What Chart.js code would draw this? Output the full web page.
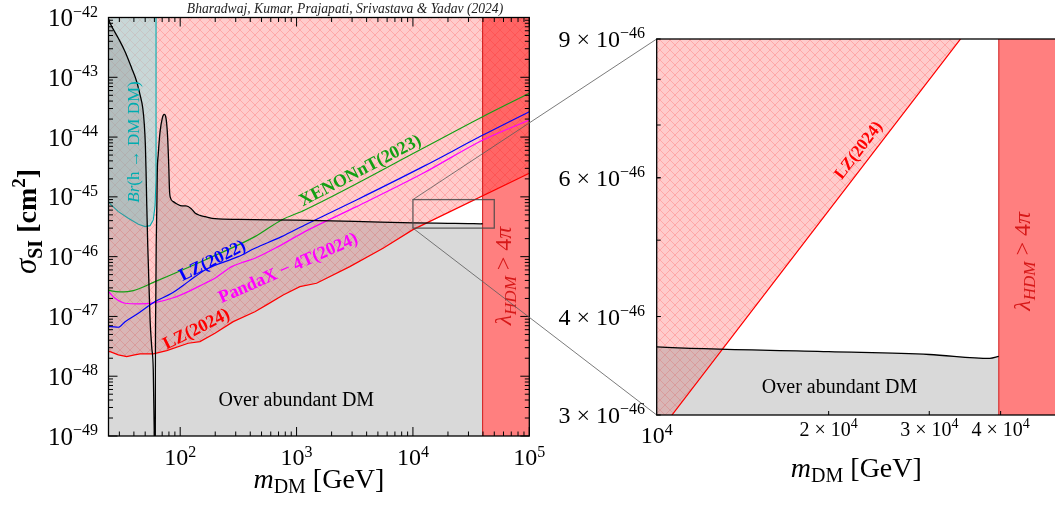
<!DOCTYPE html>
<html>
<head>
<meta charset="utf-8">
<title>Higgs-portal dark matter: direct detection limits</title>
<script src="https://cdn.jsdelivr.net/npm/chart.js@4.4.1/dist/chart.umd.min.js"></script>
<style>
  html, body { margin: 0; padding: 0; background: #ffffff; }
  #stage { position: relative; width: 1055px; height: 506px; overflow: hidden; }
  #stage canvas { position: absolute; top: 0; }
  #full { left: 0; }
  #detail { left: 540px; }
</style>
</head>
<body>
<div id="stage">
  <canvas id="full" width="1055" height="506"></canvas>
  <canvas id="detail" width="517" height="506"></canvas>
</div>
<script>
// DM mass in GeV, spin-independent cross section in cm^2

// relic-density curve (black); the region below it gives over-abundant DM
const relicMass = [24.2, 25.0, 29.4, 33.6, 38.3, 42.3, 45.2, 47.7, 49.2, 50.2, 50.9, 51.6, 52.6, 53.2,
  55.1, 56.9, 58.7, 59.9, 60.3, 60.8, 61.1, 61.2, 61.7, 62.2, 63.0, 63.6, 64.7, 67.1, 70.2, 73.0,
  75.5, 77.8, 79.7, 80.9, 82.5, 87.3, 93.9, 103.6, 112.1, 123.8, 134.0, 147.9, 163.3, 199.0, 316,
  1000, 3162, 10000, 20000, 30000, 38300, 39700];
const relicSigma = [9.4e-43, 8.0e-43, 4.49e-43, 2.68e-43, 1.42e-43, 8.43e-44, 5.06e-44, 3.03e-44,
  1.59e-44, 7.38e-45, 2.64e-45, 7.33e-46, 1.57e-46, 7.85e-47, 8.75e-48, 3.13e-48, 1.27e-48, 1.0e-49,
  2.5e-50, 2.5e-50, 1.0e-49, 1.27e-48, 1.89e-47, 1.57e-46, 7.33e-46, 2.82e-45, 5.02e-45, 1.22e-44,
  2.08e-44, 2.39e-44, 2.08e-44, 1.08e-44, 3.41e-45, 1.30e-45, 9.59e-46, 8.32e-46, 7.60e-46, 7.05e-46,
  7.05e-46, 6.40e-46, 5.38e-46, 4.89e-46, 4.67e-46, 4.31e-46, 4.19e-46, 4.07e-46, 3.90e-46, 3.66e-46,
  3.61e-46, 3.58e-46, 3.54e-46, 3.56e-46];

// LZ (2024) upper limit
const lz2024Mass = [24.2, 25.0, 29.4, 34.7, 39.6, 45.2, 58.7, 76.6, 117.3, 147.9, 199, 285.6, 438.5,
  552.7, 767.4, 1067, 1485, 2867, 5537, 10000, 20000, 100000];
const lz2024Sigma = [2.58e-48, 2.58e-48, 2.27e-48, 2.13e-48, 2.25e-48, 2.36e-48, 2.36e-48, 2.68e-48,
  3.56e-48, 3.79e-48, 5.24e-48, 8.18e-48, 1.20e-47, 1.56e-47, 2.29e-47, 3.15e-47, 3.59e-47, 6.81e-47,
  1.38e-46, 2.83e-46, 5.45e-46, 2.49e-45];

// LZ (2022) upper limit
const lz2022Mass = [24.2, 25.0, 29.4, 33.6, 43.7, 60.8, 84.5, 117.3, 163.3, 315.3, 438.5, 743.2, 1178,
  3273, 12210, 39970, 100000];
const lz2022Sigma = [6.75e-48, 6.75e-48, 6.59e-48, 8.18e-48, 1.13e-47, 1.77e-47, 2.44e-47, 3.82e-47,
  6.0e-47, 1.0e-46, 1.38e-46, 2.16e-46, 3.39e-46, 8.87e-46, 3.20e-45, 1.08e-44, 2.66e-44];

// PandaX-4T (2024) upper limit
const pandaxMass = [24.2, 25.0, 27.6, 33.6, 43.7, 60.8, 84.5, 117.3, 163.3, 199, 276.7, 359.9, 438.5,
  695.3, 1178, 3273, 12210, 39970, 100000];
const pandaxSigma = [2.6e-47, 2.44e-47, 2.01e-47, 1.66e-47, 1.62e-47, 1.70e-47, 2.01e-47, 2.60e-47,
  3.59e-47, 4.35e-47, 6.81e-47, 8.24e-47, 9.40e-47, 1.47e-46, 2.62e-46, 6.86e-46, 2.48e-45, 8.95e-45,
  1.93e-44];

// XENONnT (2023) upper limit
const xenonMass = [24.2, 25.0, 30.4, 39.6, 60.8, 163.3, 438.5, 743.2, 1178, 12210, 39700, 100000];
const xenonSigma = [2.75e-47, 2.70e-47, 2.57e-47, 2.70e-47, 3.82e-47, 8.81e-47, 2.16e-46, 4.11e-46,
  6.04e-46, 6.50e-45, 2.19e-44, 5.40e-44];

// boundary of the region excluded by Br(h -> DM DM)
const brMass = [24.2, 25.0, 29.4, 35.8, 43.7, 49.9, 55.1, 58.7, 60.8, 62.0, 62.0];
const brSigma = [8.32e-46, 7.60e-46, 5.66e-46, 4.39e-46, 3.48e-46, 3.18e-46, 3.30e-46, 4.11e-46,
  7.05e-46, 1.92e-45, 1e-42];

// perturbativity: lambda_HDM > 4 pi above this mass
const lambdaMass = 39700;

// axis ranges
const fullX = [24.2, 1e5];
const fullY = [1e-49, 1e-42];
const detailX = [1e4, 5e4];
const detailY = [3e-46, 9e-46];

// tick labels
const fullXTicks = [1e2, 1e3, 1e4, 1e5];
const fullXExp = ['2', '3', '4', '5'];
const fullYTicks = [1e-42, 1e-43, 1e-44, 1e-45, 1e-46, 1e-47, 1e-48, 1e-49];
const fullYExp = ['−42', '−43', '−44', '−45', '−46', '−47', '−48', '−49'];
const detailYTicks = [3e-46, 4e-46, 6e-46, 9e-46];
const detailYMant = ['3', '4', '6', '9'];
const detailXTicks = [1e4, 2e4, 3e4, 4e4];
const detailXMant = ['', '2', '3', '4'];

// ---------------------------------------------------------------------------------------------
const FAM = '"Liberation Serif", "Times New Roman", serif';
const font = (px, style) => (style ? style + ' ' : '') + px + 'px ' + FAM;
const xy = (xs, ys) => xs.map((x, i) => ({ x, y: ys[i] }));

// light red fill with a diagonal cross-hatch
function hatchPattern(ctx) {
  const T = 10;
  const c = document.createElement('canvas');
  c.width = c.height = T;
  const g = c.getContext('2d');
  g.fillStyle = 'rgba(255,0,0,0.2)';
  g.fillRect(0, 0, T, T);
  g.strokeStyle = 'rgba(255,60,60,0.26)';
  g.lineWidth = 1;
  g.beginPath();
  for (let k = -1; k <= 1; k++) {
    g.moveTo(k * T - 1, -1); g.lineTo(k * T + T + 1, T + 1);
    g.moveTo(k * T + T + 1, -1); g.lineTo(k * T - 1, T + 1);
  }
  g.stroke();
  return ctx.createPattern(c, 'repeat');
}

const NONE = 'rgba(0,0,0,0)';

function layers(ctx, detail) {
  const sets = [];
  // region excluded by LZ (2024)
  sets.push({ data: xy(lz2024Mass, lz2024Sigma), fill: 'end', backgroundColor: hatchPattern(ctx),
    borderColor: NONE, borderWidth: 0, order: 10 });
  if (!detail) {
    sets.push({ data: xy(brMass, brSigma), fill: 'end', backgroundColor: 'rgba(145,226,226,0.5)',
      borderColor: 'rgb(0,172,176)', borderWidth: 1.1, order: 9 });
  }
  // over-abundant region under the relic curve
  sets.push({ data: xy(relicMass, relicSigma), fill: 'start', backgroundColor: 'rgba(128,128,128,0.3)',
    borderColor: NONE, borderWidth: 0, order: 8 });
  // non-perturbative band
  sets.push({ data: [{ x: lambdaMass, y: fullY[0] / 10 }, { x: lambdaMass, y: fullY[1] * 10 },
                     { x: fullX[1] * 10, y: fullY[1] * 10 }],
    fill: 'start', backgroundColor: 'rgba(255,0,0,0.5)', borderColor: 'rgba(205,0,0,0.9)',
    borderWidth: 1, order: 7 });
  sets.push({ data: xy(lz2024Mass, lz2024Sigma), fill: false, borderColor: '#ff0000', borderWidth: 1.2, order: 5 });
  if (!detail) {
    const smooth = { fill: false, borderWidth: 1.2, cubicInterpolationMode: 'monotone' };
    sets.push(Object.assign({ data: xy(pandaxMass, pandaxSigma), borderColor: '#ff00ff', order: 4 }, smooth));
    sets.push(Object.assign({ data: xy(lz2022Mass, lz2022Sigma), borderColor: '#0000ff', order: 3 }, smooth));
    sets.push(Object.assign({ data: xy(xenonMass, xenonSigma), borderColor: 'rgb(20,160,20)', order: 2 }, smooth));
  }
  sets.push({ data: xy(relicMass, relicSigma), fill: false, borderColor: '#000000', borderWidth: 1.3,
    cubicInterpolationMode: 'monotone', order: 1 });
  sets.forEach(s => { s.clip = 0; s.pointRadius = 0; });
  return sets;
}

// text made of runs of different size / style
function rich(ctx, parts, x, y, align, angle, color, shift) {
  ctx.save();
  ctx.translate(x, y);
  ctx.rotate((angle || 0) * Math.PI / 180);
  ctx.fillStyle = color || '#000';
  ctx.textAlign = 'left';
  ctx.textBaseline = 'alphabetic';
  let w = 0;
  for (const p of parts) { ctx.font = font(p.size, p.style); w += ctx.measureText(p.text).width; }
  let cx = align === 'center' ? -w / 2 : align === 'right' ? -w : 0;
  for (const p of parts) {
    ctx.font = font(p.size, p.style);
    ctx.fillText(p.text, cx, (shift || 0) + (p.dy || 0));
    cx += ctx.measureText(p.text).width;
  }
  ctx.restore();
}

function minorLog(min, max) {
  const out = [];
  for (let d = Math.floor(Math.log10(min)); d <= Math.ceil(Math.log10(max)); d++) {
    for (let k = 2; k <= 9; k++) {
      const v = k * Math.pow(10, d);
      if (v > min * 1.0001 && v < max * 0.9999) out.push(v);
    }
  }
  return out;
}

function marks(ctx, a, scale, values, len, sides) {
  ctx.beginPath();
  for (const v of values) {
    const p = scale.getPixelForValue(v);
    if (sides.includes('bottom')) { ctx.moveTo(p, a.bottom); ctx.lineTo(p, a.bottom - len); }
    if (sides.includes('top')) { ctx.moveTo(p, a.top); ctx.lineTo(p, a.top + len); }
    if (sides.includes('left')) { ctx.moveTo(a.left, p); ctx.lineTo(a.left + len, p); }
    if (sides.includes('right')) { ctx.moveTo(a.right, p); ctx.lineTo(a.right - len, p); }
  }
  ctx.stroke();
}

function notes(chart, list) {
  const { ctx, scales: { x, y } } = chart;
  for (const n of list) {
    const px = x.getPixelForValue(n.at[0]);
    const py = y.getPixelForValue(n.at[1]);
    rich(ctx, n.parts, px, py, 'center', n.angle, n.color, 0.33 * n.parts[0].size);
  }
}

const lambdaParts = (s) => [
  { text: 'λ', size: s, style: 'italic' },
  { text: 'HDM', size: Math.round(s * 0.7), style: 'italic', dy: 5 },
  { text: ' > 4', size: s },
  { text: 'π', size: s, style: 'italic' },
];

const fullNotes = [
  { parts: [{ text: 'XENONnT(2023)', size: 18, style: 'bold' }], at: [3494, 2.82e-45], angle: -27.7, color: 'rgb(20,160,20)' },
  { parts: [{ text: 'LZ(2022)', size: 18, style: 'bold' }], at: [188, 8.8e-47], angle: -26.5, color: '#0000ff' },
  { parts: [{ text: 'PandaX − 4T(2024)', size: 18, style: 'bold' }], at: [842, 6.6e-47], angle: -23.9, color: '#ff00ff' },
  { parts: [{ text: 'LZ(2024)', size: 18, style: 'bold' }], at: [137, 6.3e-48], angle: -26.6, color: '#ff0000' },
  { parts: [{ text: 'Br', size: 17, style: 'italic' }, { text: '(h → DM DM)', size: 17 }], at: [39.7, 8.28e-45], angle: -90, color: 'rgb(0,172,176)' },
  { parts: lambdaParts(24), at: [59000, 4.75e-47], angle: -90, color: 'rgb(215,25,25)' },
  { parts: [{ text: 'Over abundant DM', size: 20 }], at: [996, 4.02e-49], angle: 0, color: '#000' },
];

const detailNotes = [
  { parts: [{ text: 'LZ(2024)', size: 17, style: 'bold' }], at: [22500, 6.51e-46], angle: -52.5, color: '#ff0000' },
  { parts: [{ text: 'Over abundant DM', size: 20 }], at: [20900, 3.26e-46], angle: 0, color: '#000' },
  { parts: lambdaParts(24), at: [43600, 4.70e-46], angle: -90, color: 'rgb(215,25,25)' },
];

let detailChart = null;

const fullDecor = {
  id: 'fullDecor',
  afterDraw(chart) {
    const { ctx, chartArea: a, scales: { x, y } } = chart;
    ctx.save();
    notes(chart, fullNotes);

    // zoomed window
    const rx0 = x.getPixelForValue(detailX[0]), rx1 = x.getPixelForValue(detailX[1]);
    const ry0 = y.getPixelForValue(detailY[1]), ry1 = y.getPixelForValue(detailY[0]);
    ctx.strokeStyle = 'rgba(70,70,70,0.85)';
    ctx.lineWidth = 1.3;
    ctx.strokeRect(rx0, ry0, rx1 - rx0, ry1 - ry0);

    // frame and inward ticks
    ctx.strokeStyle = '#000';
    ctx.lineWidth = 1.3;
    ctx.strokeRect(a.left, a.top, a.right - a.left, a.bottom - a.top);
    ctx.lineWidth = 1;
    marks(ctx, a, x, fullXTicks, 9, ['bottom', 'top']);
    marks(ctx, a, x, minorLog(fullX[0], fullX[1]), 4.5, ['bottom', 'top']);
    marks(ctx, a, y, fullYTicks, 9, ['left', 'right']);
    marks(ctx, a, y, minorLog(fullY[0], fullY[1]), 4.5, ['left', 'right']);

    // tick labels
    fullXTicks.forEach((v, i) => {
      rich(ctx, [{ text: '10', size: 24 }, { text: fullXExp[i], size: 16, dy: -8 }],
        x.getPixelForValue(v), a.bottom + 29, 'center');
    });
    fullYTicks.forEach((v, i) => {
      rich(ctx, [{ text: '10', size: 25 }, { text: fullYExp[i], size: 16, dy: -9.5 }],
        a.left - 10.5, y.getPixelForValue(v) + 8.5, 'right');
    });

    // axis titles
    rich(ctx, [{ text: 'm', size: 28, style: 'italic' }, { text: 'DM', size: 20, dy: 5 }, { text: ' [GeV]', size: 28 }],
      (a.left + a.right) / 2, a.bottom + 52, 'center');
    rich(ctx, [{ text: 'σ', size: 31, style: 'italic' }, { text: 'SI', size: 20, style: 'bold', dy: 6 },
               { text: ' [cm', size: 28, style: 'bold' }, { text: '2', size: 19, style: 'bold', dy: -11 },
               { text: ']', size: 28, style: 'bold' }],
      36, a.top + 204, 'center', -90);

    rich(ctx, [{ text: 'Bharadwaj, Kumar, Prajapati, Srivastava & Yadav (2024)', size: 13.6, style: 'italic' }],
      345, 12.5, 'center', 0, '#222');

    // connectors to the detail panel
    if (detailChart) {
      const d = detailChart.chartArea;
      const off = detailChart.canvas.offsetLeft - chart.canvas.offsetLeft;
      ctx.strokeStyle = 'rgba(90,90,90,0.8)';
      ctx.lineWidth = 1;
      ctx.beginPath();
      ctx.moveTo(rx0, ry0); ctx.lineTo(d.left + off, d.top);
      ctx.moveTo(rx0, ry1); ctx.lineTo(d.left + off, d.bottom);
      ctx.stroke();
    }
    ctx.restore();
  }
};

const detailDecor = {
  id: 'detailDecor',
  afterDraw(chart) {
    const { ctx, chartArea: a, scales: { x, y } } = chart;
    ctx.save();
    notes(chart, detailNotes);

    ctx.strokeStyle = '#000';
    ctx.lineWidth = 1.3;
    ctx.strokeRect(a.left, a.top, a.right - a.left, a.bottom - a.top);
    ctx.lineWidth = 1;
    marks(ctx, a, y, minorLog(detailY[0], detailY[1]).concat(detailYTicks), 4, ['left']);
    marks(ctx, a, x, detailXTicks.slice(1), 4, ['bottom']);

    detailYTicks.forEach((v, i) => {
      rich(ctx, [{ text: detailYMant[i] + ' × 10', size: 24 }, { text: '−46', size: 16, dy: -8.8 }],
        a.left - 11.7, y.getPixelForValue(v) + 8, 'right');
    });
    detailXTicks.forEach((v, i) => {
      const px = x.getPixelForValue(v);
      if (detailXMant[i] === '') {
        rich(ctx, [{ text: '10', size: 24 }, { text: '4', size: 16, dy: -8.3 }], px, a.bottom + 28.3, 'center');
      } else {
        rich(ctx, [{ text: detailXMant[i] + ' × 10', size: 20 }, { text: '4', size: 14, dy: -7.5 }], px, a.bottom + 20.5, 'center');
      }
    });

    rich(ctx, [{ text: 'm', size: 28, style: 'italic' }, { text: 'DM', size: 20, dy: 5 }, { text: ' [GeV]', size: 28 }],
      (a.left + a.right) / 2, a.bottom + 62, 'center');
    ctx.restore();
  }
};

function baseOptions(xr, yr, pad) {
  return {
    responsive: false,
    animation: false,
    devicePixelRatio: 1,
    events: [],
    layout: { padding: pad },
    scales: {
      x: { type: 'logarithmic', min: xr[0], max: xr[1], display: false },
      y: { type: 'logarithmic', min: yr[0], max: yr[1], display: false },
    },
    plugins: { legend: { display: false }, tooltip: { enabled: false }, title: { display: false } },
    elements: { point: { radius: 0, hoverRadius: 0 }, line: { tension: 0 } },
  };
}

const detailCanvas = document.getElementById('detail');
detailChart = new Chart(detailCanvas, {
  type: 'line',
  data: { datasets: layers(detailCanvas.getContext('2d'), true) },
  options: baseOptions(detailX, detailY, { left: 116.7, right: 1, top: 39, bottom: 91 }),
  plugins: [detailDecor],
});

const fullCanvas = document.getElementById('full');
new Chart(fullCanvas, {
  type: 'line',
  data: { datasets: layers(fullCanvas.getContext('2d'), false) },
  options: baseOptions(fullX, fullY, { left: 108.5, right: 525.7, top: 17.5, bottom: 70 }),
  plugins: [fullDecor],
});
</script>
</body>
</html>
